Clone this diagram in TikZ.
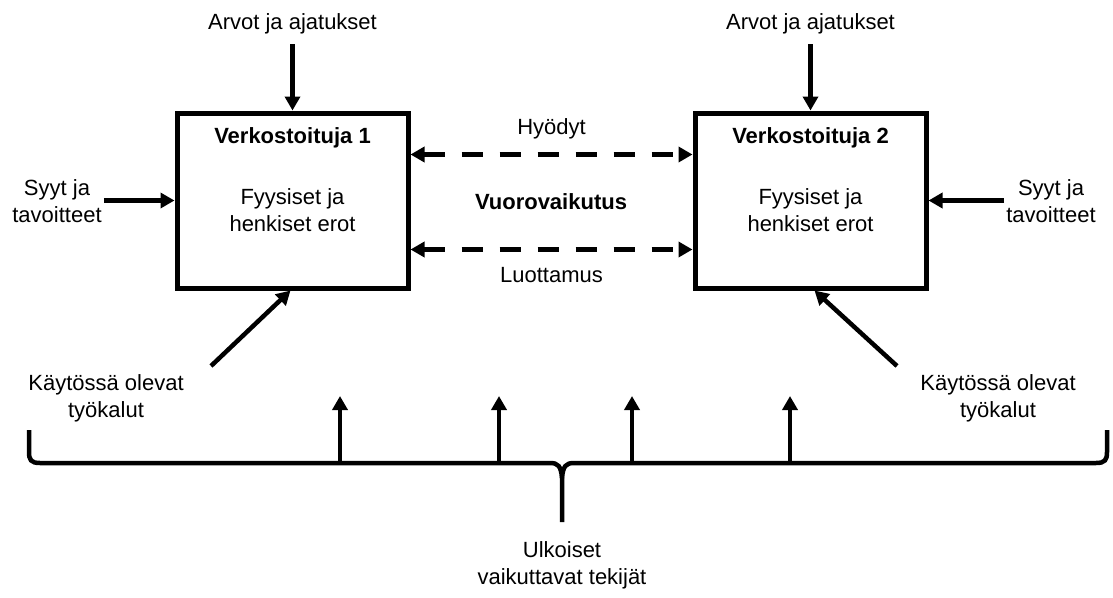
\documentclass[tikz,border=0pt]{standalone}
\usepackage{fontspec}
\setmainfont{Liberation Sans}
\usetikzlibrary{arrows.meta,positioning}

\begin{document}
\begin{tikzpicture}[
    x=1pt, y=-1pt,
    every node/.style={align=center, inner sep=2pt, font=\fontsize{22}{27}\selectfont},
    box/.style={draw, line width=5pt, minimum width=231pt, minimum height=175pt},
    arrow/.style={-{Triangle[length=14pt,width=15pt]}, line width=4.5pt},
    dasharrow/.style={{Triangle[length=14pt,width=15pt]}-{Triangle[length=14pt,width=15pt]}, line width=4.5pt, dash pattern=on 21pt off 17pt},
    brace/.style={line width=4.5pt}
]
\useasboundingbox (0,0) rectangle (1113,597);

% the two boxes
\node[box] (v1) at (292.5,200.5) {};
\node[box] (v2) at (810.5,200.5) {};
\node (title1) [below=15pt of v1.north] {\textbf{Verkostoituja 1}};
\node (title2) [below=15pt of v2.north] {\textbf{Verkostoituja 2}};
\node (erot1) at (292.5,210) {Fyysiset ja\\henkiset erot};
\node (erot2) at (810.5,210) {Fyysiset ja\\henkiset erot};

% inputs
\node (arvo1) at (292.5,24) {Arvot ja ajatukset};
\node (arvo2) at (810.5,24) {Arvot ja ajatukset};
\node (syyt1) at (57,201) {Syyt ja\\tavoitteet};
\node (syyt2) at (1051,201) {Syyt ja\\tavoitteet};
\node (kay1) at (106,398) {Käytössä olevat\\työkalut};
\node (kay2) at (998,398) {Käytössä olevat\\työkalut};
\coordinate (k1) at (211,366);
\coordinate (k2) at (897,366);

\draw[arrow, shorten <=8pt] (arvo1) -- (v1);
\draw[arrow, shorten <=8pt] (arvo2) -- (v2);
\draw[arrow] (syyt1.east |- v1) -- (v1.west);
\draw[arrow] (syyt2.west |- v2) -- (v2.east);
\draw[arrow] (k1) -- ([xshift=-2pt]v1.south);
\draw[arrow] (k2) -- ([xshift=4pt]v2.south);

% interaction
\node (vuoro) at (551,202) {\textbf{Vuorovaikutus}};
\draw[dasharrow] ([yshift=46pt]v1.east) -- node[above=11pt] (hyoty) {Hyödyt} ([yshift=46pt]v2.west);
\draw[dasharrow] ([yshift=-49pt]v1.east) -- node[below=14pt] (luotto) {Luottamus} ([yshift=-49pt]v2.west);

% external factors
\draw[brace] (29,430) -- (29,452) .. controls (29,460) and (31,463) .. (40,463) -- (550,463)
  .. controls (558,463) and (561,466) .. (562,478) -- (562,522);
\draw[brace] (1107,430) -- (1107,452) .. controls (1107,460) and (1105,463) .. (1096,463) -- (574,463)
  .. controls (566,463) and (563,466) .. (562,478);
\foreach \x in {340,499,632,790} {
  \coordinate (b\x) at (\x,463);
  \coordinate (u\x) at (\x,396);
  \draw[arrow] (b\x) -- (u\x);
}
\node (ulko) at (562,565) {Ulkoiset\\vaikuttavat tekijät};
\end{tikzpicture}
\end{document}
